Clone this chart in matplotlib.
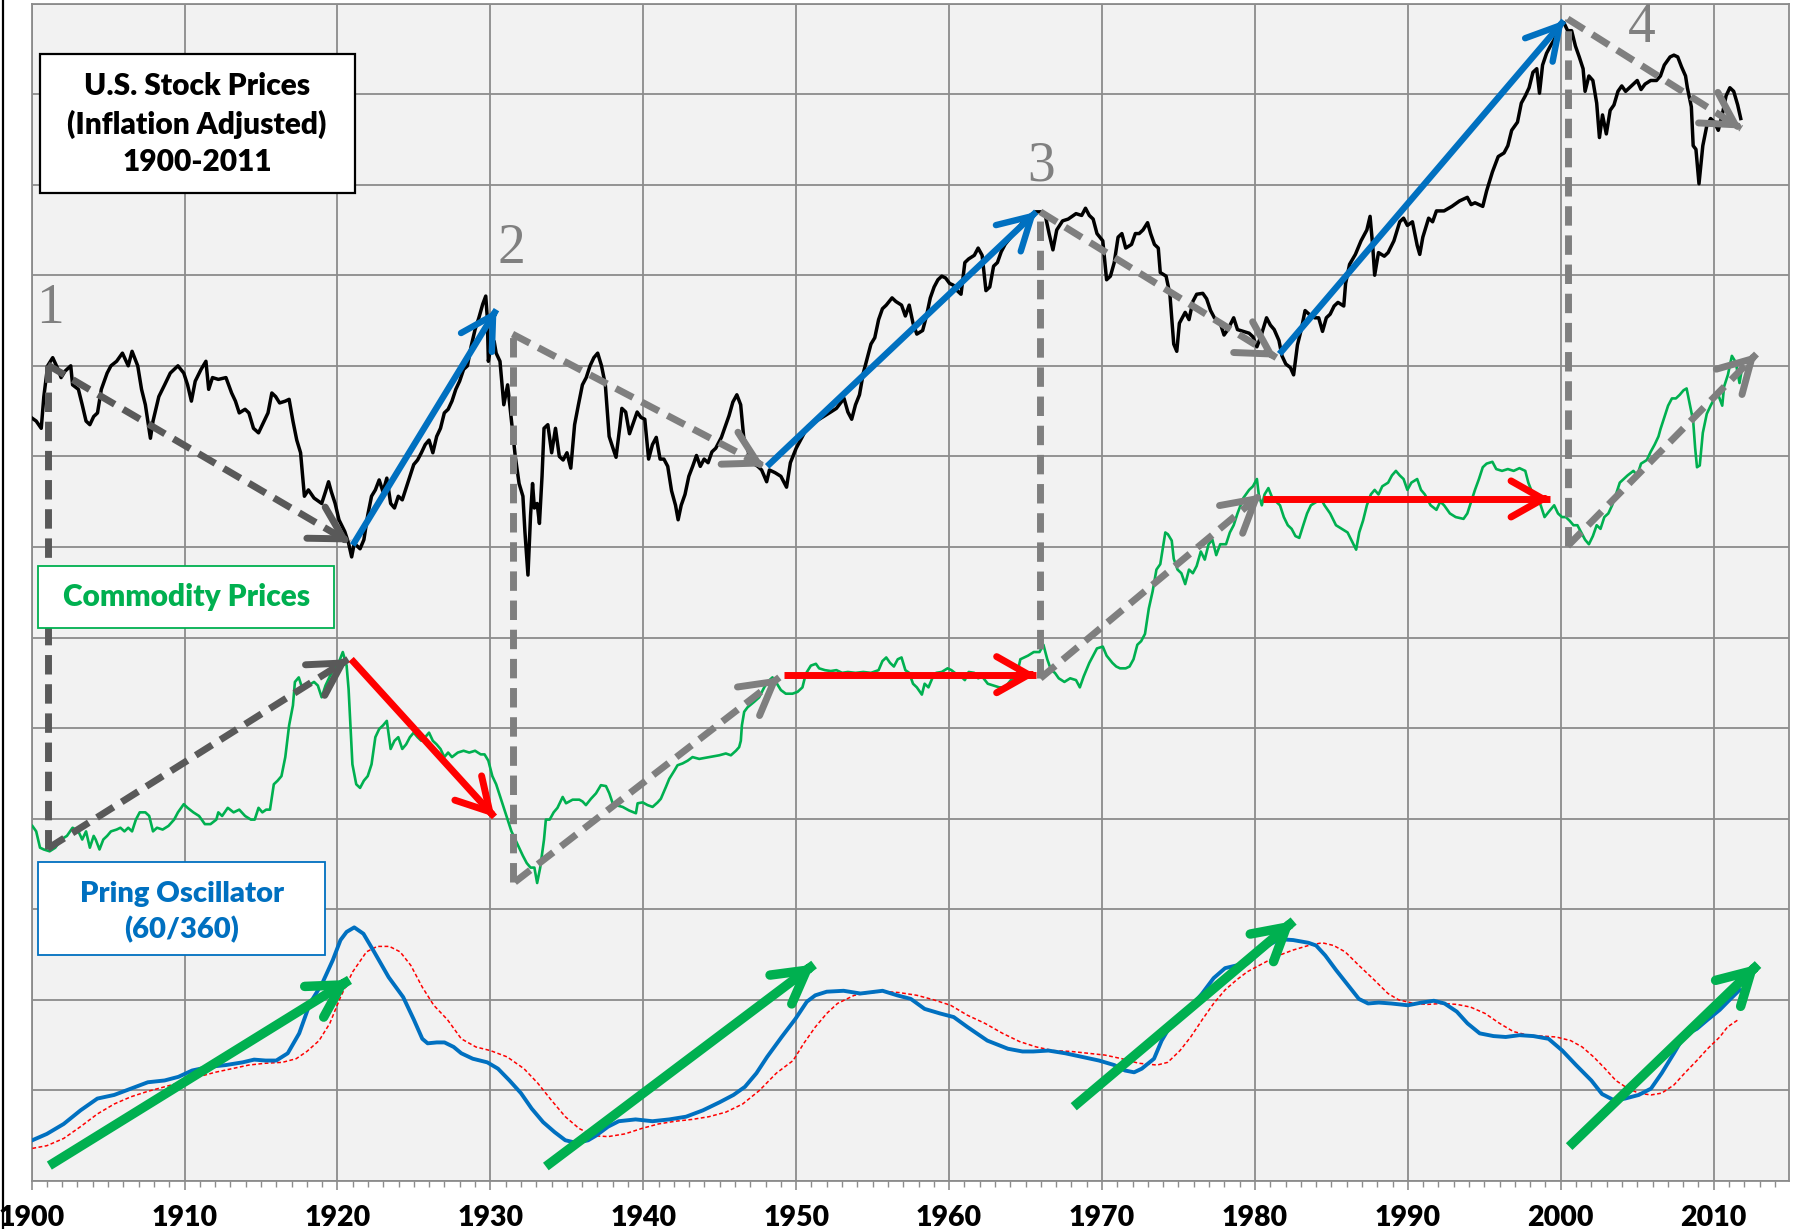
import matplotlib
matplotlib.use('Agg')
import matplotlib.pyplot as plt
from matplotlib.patches import Rectangle
from matplotlib.lines import Line2D
import numpy as np

W, H, DPI = 1796, 1229, 100

# ---------------- data (year, value on a 0..13 chart scale) ----------------
stock = [
(1900.05,8.42),(1900.30,8.39),(1900.63,8.31),(1900.80,8.66),(1901.05,9.00),(1901.38,9.09),(1901.68,8.98),
(1901.93,8.87),(1902.18,8.94),(1902.56,9.00),(1902.68,8.79),(1903.06,8.74),(1903.31,8.57),(1903.56,8.39),
(1903.81,8.35),(1904.06,8.44),(1904.31,8.48),(1904.56,8.74),(1904.94,8.92),(1905.19,9.00),(1905.56,9.05),
(1905.94,9.14),(1906.32,9.00),(1906.57,9.16),(1906.94,9.00),(1907.19,8.74),(1907.44,8.57),(1907.77,8.20),
(1907.94,8.39),(1908.32,8.66),(1908.70,8.79),(1909.07,8.92),(1909.57,9.00),(1909.95,8.92),(1910.20,8.79),
(1910.45,8.61),(1910.70,8.83),(1911.08,8.96),(1911.40,9.05),(1911.58,8.74),(1911.83,8.87),(1912.21,8.85),
(1912.71,8.87),(1913.08,8.70),(1913.33,8.61),(1913.58,8.48),(1913.96,8.52),(1914.21,8.48),(1914.51,8.31),
(1914.84,8.26),(1915.21,8.39),(1915.46,8.48),(1915.71,8.70),(1915.96,8.66),(1916.22,8.59),(1916.59,8.61),
(1916.84,8.63),(1917.09,8.39),(1917.34,8.18),(1917.59,8.04),(1917.84,7.56),(1918.10,7.63),(1918.47,7.54),
(1918.97,7.48),(1919.22,7.61),(1919.42,7.72),(1919.60,7.61),(1919.85,7.48),(1920.10,7.30),(1920.48,7.17),
(1920.73,7.04),(1920.93,6.89),(1921.10,7.04),(1921.48,6.98),(1921.73,7.08),(1921.98,7.35),(1922.23,7.56),
(1922.48,7.63),(1922.73,7.74),(1922.98,7.61),(1923.23,7.76),(1923.48,7.48),(1923.73,7.43),(1923.98,7.56),
(1924.24,7.52),(1924.49,7.65),(1924.74,7.78),(1924.99,7.91),(1925.24,7.96),(1925.49,8.04),(1925.74,8.13),
(1925.99,8.18),(1926.24,8.04),(1926.49,8.22),(1926.74,8.31),(1926.99,8.48),(1927.24,8.52),(1927.49,8.61),
(1927.74,8.74),(1927.99,8.83),(1928.25,8.96),(1928.50,9.00),(1928.75,9.22),(1929.00,9.40),(1929.25,9.53),
(1929.50,9.68),(1929.70,9.77),(1929.80,9.53),(1929.87,9.05),(1930.00,9.18),(1930.25,9.27),(1930.38,9.14),
(1930.63,9.05),(1930.88,8.57),(1931.13,8.79),(1931.38,8.39),(1931.63,8.00),(1931.88,7.70),(1932.13,7.56),
(1932.26,7.17),(1932.46,6.69),(1932.63,7.35),(1932.76,7.70),(1932.88,7.43),(1933.06,7.48),(1933.21,7.26),
(1933.38,7.78),(1933.51,8.31),(1933.76,8.35),(1934.01,8.04),(1934.26,8.31),(1934.51,8.00),(1934.76,7.96),
(1935.01,8.04),(1935.26,7.87),(1935.51,8.35),(1935.76,8.57),(1936.02,8.79),(1936.27,8.87),(1936.52,9.00),
(1936.77,9.09),(1937.02,9.14),(1937.27,9.00),(1937.52,8.79),(1937.77,8.22),(1938.02,8.09),(1938.22,7.99),
(1938.47,8.33),(1938.60,8.53),(1938.85,8.49),(1939.10,8.25),(1939.35,8.37),(1939.60,8.49),(1939.85,8.43),
(1940.10,8.41),(1940.35,7.97),(1940.60,8.13),(1940.85,8.21),(1941.10,7.97),(1941.35,7.97),(1941.60,7.89),
(1941.85,7.62),(1942.11,7.46),(1942.28,7.30),(1942.48,7.46),(1942.73,7.58),(1942.98,7.78),(1943.23,7.89),
(1943.48,8.01),(1943.73,7.89),(1943.98,7.97),(1944.24,7.93),(1944.49,8.05),(1944.74,8.09),(1945.11,8.21),
(1945.36,8.33),(1945.61,8.45),(1945.86,8.60),(1946.12,8.68),(1946.37,8.57),(1946.57,8.21),(1946.87,8.05),
(1947.12,7.93),(1947.49,7.89),(1947.74,7.85),(1948.07,7.72),(1948.25,7.85),(1948.62,7.82),(1949.00,7.78),
(1949.37,7.66),(1949.62,7.93),(1950.00,8.09),(1950.38,8.21),(1950.75,8.33),(1951.13,8.37),(1951.50,8.41),
(1951.88,8.45),(1952.26,8.49),(1952.63,8.53),(1953.13,8.64),(1953.38,8.49),(1953.63,8.41),(1953.88,8.57),
(1954.14,8.68),(1954.39,8.92),(1954.64,9.08),(1954.89,9.24),(1955.14,9.31),(1955.39,9.51),(1955.64,9.63),
(1955.89,9.67),(1956.27,9.75),(1956.52,9.71),(1956.89,9.67),(1957.14,9.55),(1957.39,9.67),(1957.64,9.47),
(1957.89,9.35),(1958.27,9.39),(1958.52,9.55),(1958.77,9.75),(1959.02,9.87),(1959.27,9.95),(1959.52,9.99),
(1959.77,9.97),(1960.03,9.91),(1960.28,9.89),(1960.53,9.83),(1960.78,9.79),(1961.03,10.14),(1961.28,10.18),
(1961.65,10.22),(1961.90,10.30),(1962.16,10.22),(1962.41,9.83),(1962.66,9.87),(1962.91,10.10),(1963.16,10.14),
(1963.41,10.26),(1963.66,10.34),(1964.04,10.42),(1964.41,10.50),(1964.79,10.58),(1965.16,10.62),(1965.66,10.70),
(1966.04,10.70),(1966.29,10.66),(1966.54,10.46),(1966.79,10.28),(1967.04,10.50),(1967.42,10.60),(1967.79,10.62),
(1968.30,10.68),(1968.67,10.66),(1968.92,10.74),(1969.17,10.66),(1969.42,10.62),(1969.67,10.46),(1970.05,10.38),
(1970.30,9.95),(1970.55,9.99),(1970.80,10.14),(1971.05,10.42),(1971.30,10.46),(1971.55,10.30),(1971.93,10.34),
(1972.18,10.46),(1972.43,10.46),(1972.68,10.50),(1972.98,10.58),(1973.18,10.46),(1973.43,10.34),(1973.68,10.30),
(1973.81,10.03),(1974.19,9.99),(1974.44,9.79),(1974.69,9.24),(1974.89,9.16),(1975.06,9.47),(1975.44,9.59),
(1975.69,9.51),(1975.94,9.71),(1976.19,9.79),(1976.59,9.80),(1976.84,9.74),(1977.10,9.61),(1977.35,9.53),
(1977.73,9.47),(1977.98,9.34),(1978.23,9.40),(1978.61,9.53),(1978.86,9.40),(1979.24,9.38),(1979.62,9.36),
(1979.87,9.32),(1980.13,9.21),(1980.38,9.32),(1980.76,9.53),(1981.01,9.45),(1981.26,9.40),(1981.57,9.28),
(1981.77,9.11),(1982.02,9.02),(1982.32,8.98),(1982.53,8.90),(1982.78,9.23),(1983.03,9.40),(1983.28,9.61),
(1983.54,9.57),(1983.91,9.53),(1984.17,9.53),(1984.42,9.38),(1984.67,9.53),(1984.92,9.57),(1985.18,9.66),
(1985.43,9.70),(1985.81,9.66),(1985.93,9.91),(1986.19,10.12),(1986.57,10.23),(1986.94,10.38),(1987.32,10.50),
(1987.53,10.65),(1987.70,10.33),(1987.83,10.00),(1988.08,10.25),(1988.46,10.21),(1988.71,10.25),(1989.09,10.38),
(1989.47,10.59),(1989.72,10.63),(1989.97,10.55),(1990.30,10.59),(1990.61,10.33),(1990.78,10.23),(1990.98,10.42),
(1991.36,10.63),(1991.62,10.59),(1991.87,10.71),(1992.37,10.71),(1992.88,10.76),(1993.38,10.82),(1993.89,10.86),
(1994.14,10.78),(1994.39,10.80),(1994.90,10.76),(1995.15,10.93),(1995.53,11.14),(1995.91,11.31),(1996.29,11.35),
(1996.54,11.43),(1996.79,11.60),(1997.17,11.69),(1997.42,11.90),(1997.68,11.98),(1997.93,12.07),(1998.18,12.24),
(1998.43,12.28),(1998.61,12.01),(1998.81,12.32),(1999.07,12.45),(1999.32,12.53),(1999.57,12.60),(1999.95,12.75),
(2000.20,12.79),(2000.45,12.70),(2000.71,12.70),(2000.96,12.53),(2001.21,12.41),(2001.46,12.28),(2001.59,12.03),
(2001.84,12.20),(2002.10,12.15),(2002.35,11.90),(2002.53,11.52),(2002.73,11.77),(2002.98,11.56),(2003.23,11.82),
(2003.48,11.88),(2003.74,12.03),(2003.99,12.09),(2004.24,12.03),(2004.62,12.09),(2005.00,12.15),(2005.25,12.05),
(2005.51,12.11),(2005.88,12.15),(2006.26,12.15),(2006.52,12.20),(2006.77,12.32),(2007.15,12.41),(2007.40,12.43),
(2007.65,12.41),(2007.90,12.30),(2008.16,12.20),(2008.28,12.07),(2008.54,11.86),(2008.66,11.43),(2008.84,11.39),
(2009.04,11.01),(2009.29,11.43),(2009.55,11.65),(2009.80,11.73),(2010.05,11.69),(2010.30,11.60),(2010.56,11.77),
(2010.81,11.98),(2011.06,12.07),(2011.31,12.03),(2011.57,11.88),(2011.77,11.73),
]

commodity = [
(1900.05,3.92),(1900.30,3.86),(1900.55,3.68),(1900.80,3.66),(1901.18,3.64),(1901.55,3.68),(1901.93,3.77),
(1902.31,3.81),(1902.68,3.90),(1903.06,3.86),(1903.31,3.77),(1903.56,3.86),(1903.81,3.68),(1904.06,3.81),
(1904.19,3.77),(1904.44,3.66),(1904.69,3.77),(1904.94,3.81),(1905.19,3.86),(1905.56,3.88),(1905.81,3.90),
(1906.07,3.86),(1906.32,3.90),(1906.57,3.86),(1906.82,3.99),(1907.07,4.07),(1907.44,4.07),(1907.69,4.03),
(1907.94,3.86),(1908.20,3.90),(1908.57,3.88),(1908.95,3.92),(1909.32,3.99),(1909.57,4.07),(1909.95,4.16),
(1910.20,4.12),(1910.58,4.07),(1910.95,4.03),(1911.33,3.94),(1911.70,3.94),(1912.08,3.99),(1912.21,4.07),
(1912.46,4.03),(1912.83,4.12),(1913.21,4.07),(1913.58,4.10),(1913.96,4.03),(1914.34,3.99),(1914.59,3.99),
(1914.84,4.12),(1915.09,4.07),(1915.34,4.10),(1915.59,4.10),(1915.84,4.38),(1916.09,4.42),(1916.34,4.47),
(1916.59,4.68),(1916.84,5.03),(1917.09,5.25),(1917.22,5.51),(1917.47,5.56),(1917.72,5.43),(1918.10,5.47),
(1918.47,5.51),(1918.72,5.47),(1918.97,5.34),(1919.22,5.47),(1919.47,5.56),(1919.72,5.64),(1920.10,5.73),
(1920.35,5.84),(1920.60,5.69),(1920.73,5.43),(1920.85,5.03),(1920.98,4.60),(1921.23,4.38),(1921.48,4.34),
(1921.73,4.42),(1921.98,4.47),(1922.23,4.60),(1922.48,4.90),(1922.73,4.99),(1922.98,5.03),(1923.23,5.08),
(1923.48,4.77),(1923.73,4.86),(1923.98,4.90),(1924.24,4.77),(1924.49,4.82),(1924.74,4.90),(1924.99,4.95),
(1925.24,4.90),(1925.49,4.86),(1925.74,4.90),(1925.99,4.95),(1926.24,4.86),(1926.49,4.82),(1926.74,4.77),
(1926.99,4.68),(1927.24,4.73),(1927.49,4.68),(1927.87,4.73),(1928.25,4.75),(1928.62,4.73),(1929.00,4.75),
(1929.37,4.71),(1929.62,4.71),(1929.87,4.64),(1930.13,4.47),(1930.38,4.38),(1930.63,4.25),(1930.88,4.12),
(1931.13,3.99),(1931.38,3.86),(1931.63,3.77),(1931.88,3.68),(1932.13,3.59),(1932.38,3.51),(1932.63,3.46),
(1932.88,3.46),(1933.06,3.29),(1933.26,3.46),(1933.51,3.77),(1933.63,3.99),(1933.88,3.99),(1934.14,4.07),
(1934.39,4.12),(1934.73,4.24),(1934.95,4.17),(1935.17,4.19),(1935.38,4.21),(1935.82,4.21),(1936.03,4.19),
(1936.25,4.15),(1936.58,4.22),(1936.91,4.28),(1937.23,4.37),(1937.56,4.36),(1937.78,4.28),(1938.00,4.17),
(1938.21,4.15),(1938.65,4.13),(1939.08,4.09),(1939.52,4.06),(1939.63,4.17),(1939.96,4.18),(1940.28,4.15),
(1940.61,4.13),(1940.94,4.18),(1941.15,4.22),(1941.48,4.35),(1941.70,4.44),(1942.03,4.53),(1942.24,4.59),
(1942.57,4.61),(1942.90,4.64),(1943.22,4.68),(1943.66,4.66),(1944.31,4.68),(1944.97,4.70),(1945.40,4.72),
(1945.73,4.70),(1946.06,4.75),(1946.27,4.79),(1946.38,4.86),(1946.45,5.03),(1946.60,5.18),(1946.82,5.23),
(1947.25,5.29),(1947.58,5.34),(1947.91,5.45),(1948.13,5.51),(1948.45,5.56),(1948.67,5.51),(1949.00,5.42),
(1949.32,5.38),(1949.76,5.38),(1950.09,5.40),(1950.41,5.45),(1950.63,5.60),(1950.96,5.69),(1951.29,5.71),
(1951.50,5.66),(1951.88,5.64),(1952.26,5.63),(1952.63,5.64),(1953.01,5.61),(1953.38,5.62),(1953.88,5.61),
(1954.39,5.62),(1954.89,5.61),(1955.39,5.64),(1955.64,5.74),(1955.89,5.78),(1956.14,5.72),(1956.39,5.68),
(1956.64,5.76),(1956.89,5.78),(1957.14,5.64),(1957.39,5.61),(1957.64,5.49),(1957.89,5.45),(1958.22,5.37),
(1958.40,5.49),(1958.65,5.45),(1958.90,5.55),(1959.15,5.61),(1959.52,5.62),(1959.90,5.66),(1960.15,5.64),
(1960.53,5.59),(1960.78,5.57),(1961.03,5.53),(1961.28,5.62),(1961.65,5.61),(1961.90,5.55),(1962.16,5.57),
(1962.53,5.49),(1962.91,5.47),(1963.28,5.45),(1963.66,5.45),(1964.04,5.53),(1964.41,5.57),(1964.66,5.76),
(1964.91,5.78),(1965.16,5.80),(1965.54,5.84),(1965.91,5.84),(1966.17,5.92),(1966.42,5.76),(1966.67,5.64),
(1966.92,5.61),(1967.17,5.55),(1967.54,5.51),(1967.92,5.55),(1968.30,5.53),(1968.55,5.45),(1968.80,5.57),
(1969.17,5.72),(1969.42,5.80),(1969.67,5.88),(1970.05,5.90),(1970.30,5.80),(1970.68,5.72),(1970.93,5.68),
(1971.18,5.66),(1971.55,5.66),(1971.80,5.68),(1972.06,5.76),(1972.31,5.92),(1972.56,5.96),(1972.81,6.04),
(1973.06,6.32),(1973.31,6.51),(1973.56,6.75),(1973.81,6.81),(1974.14,7.16),(1974.31,7.14),(1974.56,7.07),
(1974.69,6.87),(1974.94,6.75),(1975.19,6.71),(1975.44,6.59),(1975.69,6.75),(1975.94,6.71),(1976.19,6.79),
(1976.46,6.95),(1976.72,6.86),(1976.97,7.03),(1977.22,7.08),(1977.47,6.91),(1977.73,7.03),(1978.11,7.03),
(1978.36,7.16),(1978.61,7.24),(1978.86,7.37),(1979.24,7.54),(1979.62,7.63),(1979.87,7.67),(1980.13,7.75),
(1980.25,7.58),(1980.45,7.46),(1980.63,7.58),(1980.88,7.65),(1981.14,7.54),(1981.39,7.50),(1981.64,7.46),
(1981.89,7.33),(1982.15,7.24),(1982.40,7.20),(1982.65,7.12),(1982.90,7.10),(1983.16,7.24),(1983.41,7.37),
(1983.66,7.46),(1984.04,7.50),(1984.29,7.54),(1984.55,7.46),(1984.92,7.37),(1985.30,7.24),(1985.68,7.20),
(1986.06,7.16),(1986.44,7.03),(1986.62,6.97),(1986.82,7.16),(1987.07,7.29),(1987.32,7.46),(1987.58,7.58),
(1987.83,7.63),(1988.08,7.58),(1988.33,7.67),(1988.71,7.71),(1988.96,7.79),(1989.22,7.84),(1989.47,7.79),
(1989.72,7.75),(1989.97,7.63),(1990.23,7.71),(1990.61,7.75),(1990.86,7.63),(1991.11,7.58),(1991.49,7.46),
(1991.87,7.41),(1992.12,7.50),(1992.37,7.46),(1992.75,7.37),(1993.13,7.33),(1993.64,7.31),(1993.89,7.37),
(1994.14,7.50),(1994.39,7.63),(1994.65,7.75),(1994.90,7.88),(1995.15,7.92),(1995.53,7.94),(1995.78,7.86),
(1996.16,7.84),(1996.54,7.86),(1996.92,7.84),(1997.30,7.87),(1997.68,7.84),(1997.88,7.71),(1998.18,7.58),
(1998.43,7.54),(1998.69,7.46),(1998.94,7.33),(1999.32,7.41),(1999.57,7.46),(1999.82,7.37),(2000.08,7.33),
(2000.33,7.33),(2000.58,7.29),(2000.83,7.24),(2001.09,7.24),(2001.34,7.16),(2001.59,7.08),(2001.84,7.03),
(2002.10,7.12),(2002.35,7.24),(2002.60,7.20),(2002.85,7.33),(2003.11,7.37),(2003.36,7.46),(2003.61,7.58),
(2003.86,7.71),(2004.12,7.75),(2004.37,7.79),(2004.75,7.84),(2005.00,7.79),(2005.25,7.92),(2005.63,7.96),
(2005.88,8.05),(2006.14,8.13),(2006.39,8.22),(2006.52,8.30),(2006.77,8.43),(2007.02,8.56),(2007.27,8.64),
(2007.53,8.64),(2007.78,8.68),(2008.03,8.73),(2008.23,8.75),(2008.41,8.60),(2008.66,8.39),(2008.79,8.09),
(2008.91,7.88),(2009.09,7.90),(2009.29,8.26),(2009.55,8.47),(2009.80,8.56),(2010.05,8.64),(2010.30,8.68),
(2010.56,8.56),(2010.68,8.77),(2010.93,8.90),(2011.19,9.11),(2011.44,9.04),(2011.69,8.81),(2011.82,8.94),
]

oscillator = [
(1900.05,0.45),(1901.0,0.52),(1902.1,0.63),(1903.2,0.78),(1904.3,0.91),(1905.4,0.95),(1906.5,1.02),
(1907.6,1.09),(1908.7,1.11),(1909.6,1.15),(1910.5,1.22),(1911.6,1.26),(1912.7,1.28),(1913.8,1.31),
(1914.55,1.34),(1915.3,1.33),(1916.0,1.33),(1916.75,1.41),(1917.5,1.63),(1918.2,1.96),(1919.0,2.18),
(1919.7,2.44),(1920.2,2.66),(1920.6,2.75),(1921.1,2.80),(1921.7,2.73),(1922.4,2.53),(1923.35,2.25),
(1924.3,2.03),(1925.0,1.78),(1925.55,1.57),(1925.9,1.52),(1926.5,1.53),(1927.0,1.53),(1927.6,1.48),
(1928.1,1.41),(1928.85,1.35),(1929.8,1.31),(1930.5,1.24),(1931.25,1.11),(1932.0,0.97),(1932.7,0.80),
(1933.45,0.65),(1934.2,0.54),(1934.9,0.45),(1935.65,0.42),(1936.4,0.45),(1936.9,0.50),(1937.7,0.60),
(1938.4,0.66),(1939.5,0.68),(1940.6,0.66),(1941.7,0.68),(1942.8,0.71),(1943.9,0.78),(1945.0,0.87),
(1945.9,0.95),(1946.65,1.04),(1947.4,1.19),(1948.1,1.37),(1949.05,1.59),(1949.95,1.79),(1950.7,1.98),
(1951.25,2.05),(1952.0,2.09),(1953.1,2.10),(1954.2,2.07),(1955.65,2.10),(1956.6,2.05),(1957.5,2.01),
(1958.4,1.90),(1959.4,1.85),(1960.3,1.81),(1961.2,1.70),(1962.5,1.55),(1963.85,1.46),(1964.8,1.43),
(1965.5,1.43),(1966.5,1.44),(1967.6,1.41),(1968.7,1.37),(1969.8,1.33),(1970.8,1.28),(1971.5,1.22),
(1972.1,1.20),(1972.6,1.24),(1973.4,1.35),(1973.9,1.55),(1974.5,1.72),(1975.1,1.79),(1975.8,1.92),
(1976.55,2.07),(1977.3,2.24),(1978.05,2.35),(1978.8,2.38),(1979.5,2.40),(1980.1,2.49),(1980.85,2.60),
(1981.6,2.67),(1982.5,2.66),(1983.5,2.63),(1984.0,2.60),(1984.6,2.49),(1985.3,2.33),(1986.1,2.16),
(1986.8,2.01),(1987.4,1.96),(1988.1,1.97),(1988.9,1.96),(1990.0,1.94),(1990.9,1.97),(1991.7,1.99),
(1992.4,1.96),(1993.2,1.87),(1993.9,1.74),(1994.7,1.63),(1995.6,1.60),(1996.4,1.59),(1997.3,1.61),
(1998.2,1.60),(1999.2,1.57),(2000.1,1.44),(2001.0,1.28),(2002.0,1.11),(2002.7,0.96),(2003.5,0.89),
(2004.2,0.91),(2005.1,0.95),(2005.9,1.02),(2006.6,1.19),(2007.4,1.41),(2008.1,1.61),(2008.9,1.68),
(2009.6,1.78),(2010.4,1.89),(2011.1,2.01),(2011.7,2.11),
]

signal = [
(1900.05,0.36),(1901.0,0.39),(1902.1,0.47),(1903.2,0.60),(1904.3,0.74),(1905.4,0.85),(1906.5,0.93),
(1907.6,0.99),(1908.7,1.04),(1909.8,1.09),(1910.9,1.15),(1912.0,1.20),(1913.1,1.24),(1914.2,1.28),
(1915.3,1.30),(1916.4,1.31),(1917.3,1.35),(1918.0,1.43),(1918.8,1.55),(1919.5,1.74),(1920.2,2.03),
(1921.0,2.31),(1921.9,2.53),(1922.6,2.59),(1923.4,2.59),(1924.1,2.53),(1924.8,2.38),(1925.55,2.14),
(1926.3,1.94),(1927.2,1.78),(1928.1,1.57),(1929.05,1.48),(1930.0,1.44),(1931.1,1.37),(1932.2,1.24),
(1933.1,1.08),(1934.0,0.89),(1934.9,0.71),(1935.8,0.58),(1936.75,0.50),(1937.7,0.49),(1938.8,0.52),
(1939.9,0.58),(1941.0,0.63),(1942.1,0.66),(1943.2,0.68),(1944.3,0.71),(1945.4,0.76),(1946.5,0.85),
(1947.6,1.00),(1948.7,1.19),(1949.8,1.33),(1950.5,1.52),(1951.25,1.70),(1952.0,1.85),(1952.7,1.96),
(1953.8,2.05),(1954.9,2.08),(1956.0,2.09),(1956.75,2.08),(1957.9,2.05),(1959.0,2.00),(1960.1,1.94),
(1961.2,1.83),(1962.35,1.74),(1963.5,1.63),(1964.6,1.54),(1965.7,1.48),(1966.8,1.44),(1968.0,1.43),
(1969.1,1.41),(1970.2,1.39),(1971.3,1.35),(1972.4,1.30),(1973.6,1.28),(1974.3,1.31),(1975.1,1.44),
(1975.8,1.59),(1976.55,1.78),(1977.3,1.96),(1978.05,2.11),(1978.8,2.22),(1979.5,2.31),(1980.5,2.40),
(1981.4,2.48),(1982.5,2.55),(1983.5,2.60),(1984.4,2.63),(1985.15,2.60),(1985.9,2.53),(1986.8,2.38),
(1987.8,2.22),(1988.7,2.07),(1989.4,2.00),(1990.4,1.96),(1991.3,1.95),(1992.25,1.96),(1993.2,1.95),
(1994.1,1.92),(1995.05,1.85),(1996.0,1.74),(1996.9,1.65),(1997.85,1.61),(1998.8,1.60),(1999.7,1.59),
(2000.65,1.55),(2001.4,1.48),(2002.15,1.37),(2002.9,1.24),(2003.6,1.11),(2004.4,1.02),(2005.1,0.97),
(2005.9,0.95),(2006.6,0.97),(2007.4,1.06),(2008.1,1.19),(2008.9,1.33),(2009.6,1.46),(2010.4,1.59),
(2010.9,1.70),(2011.6,1.78),
]

decade_ticks = list(range(1900, 2011, 10))
decade_labels = [str(y) for y in decade_ticks]

title_text = "U.S. Stock Prices\n(Inflation Adjusted)\n1900-2011"
commodity_text = "Commodity Prices"
oscillator_text = "Pring Oscillator\n(60/360)"
turn_labels = ["1", "2", "3", "4"]

# annotation arrows (start year, start value, end year, end value)
dark_dashed_arrows = [(1901.05, 9.01, 1920.8, 7.05), (1901.05, 3.67, 1920.7, 5.76)]
gray_dashed_arrows = [(1931.45, 9.35, 1947.9, 7.89), (1931.6, 3.30, 1948.9, 5.56),
                      (1965.97, 10.70, 1981.4, 9.09), (1965.97, 5.55, 1980.4, 7.58),
                      (2000.45, 12.83, 2011.8, 11.62), (2000.45, 7.01, 2012.8, 9.13)]
dark_vlines = [(1901.05, 3.67, 9.01)]
gray_vlines = [(1931.45, 3.30, 9.35), (1965.97, 5.55, 10.70), (2000.45, 7.01, 12.83)]
blue_arrows = [(1921.0, 7.02, 1930.4, 9.62), (1948.1, 7.89, 1965.7, 10.70), (1981.6, 9.13, 2000.2, 12.81)]
red_arrows = [(1920.9, 5.76, 1930.27, 4.02), (1949.2, 5.59, 1965.66, 5.59), (1980.5, 7.53, 1999.3, 7.53)]
green_arrows = [(1901.16, 0.17, 1920.79, 2.22), (1933.63, 0.16, 1951.17, 2.39),
                (1968.15, 0.82, 1982.53, 2.87), (2000.55, 0.38, 2012.9, 2.39)]
turn_pos = [(1901.2, 9.47), (1931.4, 10.13), (1966.0, 11.05), (2005.3, 12.57)]

# ---------------- figure ----------------
fig = plt.figure(figsize=(W / DPI, H / DPI), dpi=DPI)
fig.patch.set_facecolor('white')
L, R, T, B = 31.6, 1788.6, 3.5, 1181.0
ax = fig.add_axes([L / W, 1 - B / H, (R - L) / W, (B - T) / H])
ax.set_facecolor('#F2F2F2')
ax.set_xlim(1900, 2014.9)
ax.set_ylim(0, 13)

GRID = '#8C8C8C'
ax.set_xticks(decade_ticks)
ax.set_xticks(range(1900, 2015), minor=True)
ax.set_xticklabels(decade_labels)
ax.set_yticks(range(0, 14))
ax.tick_params(axis='y', length=0, labelleft=False)
ax.tick_params(axis='x', which='major', length=6.5, width=1.2, color=GRID, pad=11)
ax.tick_params(axis='x', which='minor', length=4.5, width=1.0, color=GRID)
for lab in ax.get_xticklabels():
    lab.set_fontfamily('Lato')
    lab.set_fontweight('heavy')
    lab.set_fontsize(20.5)
ax.grid(True, which='major', color=GRID, lw=1.3)
ax.set_axisbelow(True)
for s in ax.spines.values():
    s.set_color(GRID)
    s.set_linewidth(1.3)

fig.add_artist(Line2D([2.5 / W, 2.5 / W], [0, 1], color='black', lw=1.6, transform=fig.transFigure))


def xy(pairs):
    a = np.array(pairs)
    return a[:, 0], a[:, 1]


x, y = xy(stock)
ax.plot(x, y, color='black', lw=2.5, zorder=3, solid_joinstyle='round')
x, y = xy(commodity)
ax.plot(x, y, color='#00B050', lw=1.9, zorder=3, solid_joinstyle='round')
x, y = xy(signal)
ax.plot(x, y, color='#FF0000', lw=1.1, ls=(0, (2.5, 1.6)), zorder=3)
x, y = xy(oscillator)
ax.plot(x, y, color='#0070C0', lw=2.8, zorder=4, solid_joinstyle='round')


def head(x0, y0, x1, y1, color, lw, z):
    hx = x1 - (x1 - x0) * 0.02
    hy = y1 - (y1 - y0) * 0.02
    ax.annotate('', xy=(x1, y1), xytext=(hx, hy),
                arrowprops=dict(arrowstyle='->,head_length=1.15,head_width=0.65', color=color, lw=lw,
                                shrinkA=0, shrinkB=0, mutation_scale=20, capstyle='round', joinstyle='round'),
                zorder=z)


def arrow(a, color, lw, dashed=False, z=6):
    x0, y0, x1, y1 = a
    ls = (0, (2.8, 1.4)) if dashed else '-'
    ax.plot([x0, x1], [y0, y1], color=color, lw=lw, ls=ls, solid_capstyle='butt', dash_capstyle='butt', zorder=z)
    head(x0, y0, x1, y1, color, lw, z)


DARK = '#595959'
GRAY = '#7F7F7F'
DLW = 5.0
for xv, y0, y1 in dark_vlines:
    ax.plot([xv, xv], [y0, y1], color=DARK, lw=DLW, ls=(0, (2.8, 1.4)), dash_capstyle='butt', zorder=5)
for xv, y0, y1 in gray_vlines:
    ax.plot([xv, xv], [y0, y1], color=GRAY, lw=DLW, ls=(0, (2.8, 1.4)), dash_capstyle='butt', zorder=5)
for a in dark_dashed_arrows:
    arrow(a, DARK, DLW, dashed=True)
for a in gray_dashed_arrows:
    arrow(a, GRAY, DLW, dashed=True)
for a in blue_arrows:
    arrow(a, '#0070C0', 4.6)
for a in red_arrows:
    arrow(a, '#FF0000', 5.0)
for a in green_arrows:
    arrow(a, '#00B050', 6.8)

for (tx, ty), t in zip(turn_pos, turn_labels):
    ax.text(tx, ty, t, family='Liberation Serif', fontsize=40, color='#808080',
            ha='center', va='baseline', zorder=7)


# ---------------- text boxes (pixel coordinates, top-left origin) ----------------
def box(x0, y0, x1, y1, ec, lw):
    fig.add_artist(Rectangle((x0 / W, 1 - y1 / H), (x1 - x0) / W, (y1 - y0) / H, transform=fig.transFigure,
                             facecolor='white', edgecolor=ec, lw=lw, zorder=10))


def label(cx, cy, text, color, size, ls=1.3):
    fig.text(cx / W, 1 - cy / H, text, ha='center', va='center', color=color, fontsize=size,
             family='Lato', fontweight='heavy', linespacing=ls, zorder=11)


box(39.5, 54, 355, 193, 'black', 1.6)
label(197, 124, title_text, 'black', 21.5, 1.38)
box(38, 566, 334, 628, '#00B050', 1.3)
label(186.5, 597, commodity_text, '#00B050', 21.5)
box(38, 862, 325, 955, '#0070C0', 1.3)
label(182, 912, oscillator_text, '#0070C0', 21, 1.42)

fig.savefig('out.png', dpi=DPI, facecolor='white')
